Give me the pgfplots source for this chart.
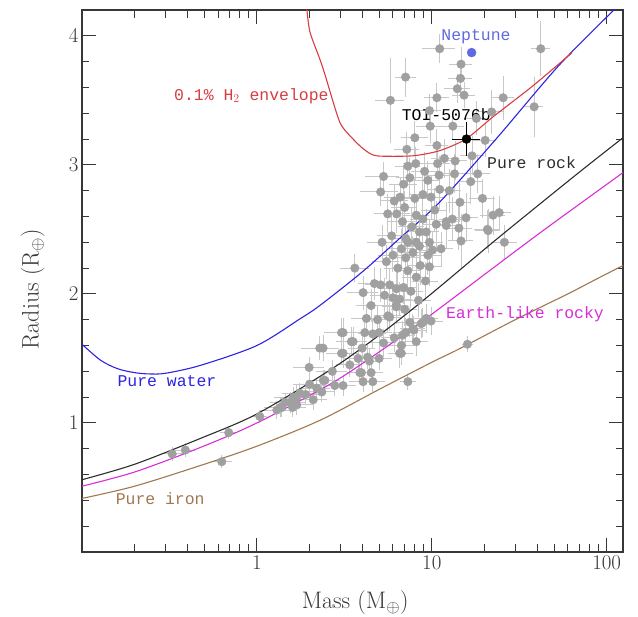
\documentclass[border=0pt]{standalone}
\usepackage{fontspec}
\usepackage{pgfplots}
\usepackage{pgfplotstable}
\pgfplotsset{compat=1.18}
\newfontfamily\labelmono{Liberation Mono}
\definecolor{ptgrey}{RGB}{160,160,160}
\definecolor{errgrey}{RGB}{200,200,200}
\definecolor{envred}{RGB}{215,60,65}
\definecolor{waterblue}{RGB}{45,35,225}
\definecolor{earthmag}{RGB}{215,45,215}
\definecolor{ironbrown}{RGB}{160,120,80}
\definecolor{rockblack}{RGB}{45,45,45}
\definecolor{neptblue}{RGB}{95,105,225}
\definecolor{axisgrey}{RGB}{55,55,55}

% known planets: mass, radius, mass error, radius error
\pgfplotstableread{
m r em er
11.1 3.90 1.8 0.08
42 3.90 3 0.18
14.7 3.78 1.5 0.10
14.6 3.67 1.5 0.08
7.08 3.68 0.6 0.12
5.8 3.50 0.8 0.30
14.0 3.59 1.6 0.08
15.3 3.54 1.5 0.07
10.7 3.52 1.2 0.08
25.6 3.52 2.5 0.14
38.5 3.45 2.5 0.20
22.0 3.41 2.4 0.14
9.8 3.30 1.2 0.10
13.2 3.30 1.3 0.08
9.7 3.42 1.0 0.10
8.0 3.21 1.0 0.10
18.0 3.36 1.8 0.10
7.2 3.12 0.8 0.10
10.7 3.15 1.0 0.10
7.3 2.99 0.8 0.12
8.1 3.01 0.9 0.10
10.8 3.01 1.2 0.10
11.0 2.92 1.2 0.12
5.3 2.91 0.9 0.08
5.1 2.79 1.0 0.08
6.6 2.75 1.0 0.12
6.1 2.72 0.8 0.10
8.9 2.77 1.0 0.15
9.9 2.75 1.2 0.14
7.0 2.67 0.8 0.10
8.0 2.74 1.0 0.12
11.1 2.81 1.2 0.12
8.15 2.61 1.0 0.12
8.9 2.58 1.0 0.15
6.8 2.56 0.9 0.10
9.3 2.48 1.2 0.15
10.6 2.54 1.2 0.15
7.1 2.43 0.9 0.12
8.15 2.40 1.0 0.12
9.7 2.40 1.3 0.15
12.1 2.53 1.5 0.15
13.6 3.03 1.5 0.12
17.0 3.07 1.8 0.12
20.2 3.19 2.0 0.10
18.3 2.93 2.0 0.12
16.7 2.87 1.8 0.14
13.5 2.93 1.4 0.12
19.5 2.74 2.2 0.12
14.5 2.71 1.5 0.12
15.7 2.59 1.8 0.16
13.1 2.58 1.5 0.14
22.4 2.61 2.5 0.12
24.3 2.63 2.5 0.10
14.3 2.51 1.8 0.14
20.8 2.50 2.5 0.12
14.7 2.41 1.6 0.18
12.1 2.56 1.3 0.12
10.1 2.34 1.2 0.12
11.3 2.35 1.2 0.10
26.0 2.40 3.0 0.10
21.0 2.49 2.4 0.14
3.63 2.20 0.5 0.08
4.05 2.01 0.6 0.10
4.7 2.08 0.7 0.10
5.1 2.07 0.7 0.10
5.75 2.07 0.8 0.10
6.27 2.04 0.8 0.12
5.37 1.99 0.7 0.10
6.55 1.96 0.8 0.10
4.5 1.91 0.6 0.10
5.6 1.83 0.7 0.10
6.27 1.90 0.8 0.10
7.3 2.18 0.9 0.12
8.15 2.13 1.0 0.12
6.7 2.35 0.8 0.12
7.3 2.40 0.9 0.10
8.5 2.37 1.0 0.12
9.5 2.30 1.2 0.12
9.7 2.21 1.2 0.12
7.1 2.28 0.9 0.10
4.23 1.81 0.6 0.08
3.11 1.70 0.5 0.08
4.14 1.70 0.6 0.08
4.6 1.69 0.6 0.08
3.55 1.63 0.5 0.08
2.39 1.58 0.4 0.07
6.8 1.68 0.8 0.08
7.9 1.72 0.9 0.08
8.7 1.77 1.0 0.08
7.5 1.78 0.9 0.08
9.3 1.81 1.0 0.08
9.9 1.79 1.1 0.08
16.0 1.61 0.4 0.03
3.05 1.70 0.5 0.08
3.47 1.63 0.5 0.08
3.11 1.54 0.5 0.08
5.0 1.70 0.6 0.08
5.75 1.82 0.7 0.08
6.27 1.91 0.7 0.10
7.1 1.70 0.8 0.08
7.8 1.73 0.9 0.08
8.9 1.78 1.0 0.08
6.55 1.54 0.6 0.08
4.4 1.48 0.5 0.06
8.15 1.63 0.9 0.08
6.7 1.60 0.8 0.08
3.05 1.54 0.4 0.06
3.79 1.50 0.5 0.06
4.3 1.51 0.5 0.06
5.0 1.50 0.6 0.06
6.7 1.54 0.7 0.06
3.96 1.39 0.5 0.06
4.5 1.39 0.5 0.06
4.05 1.32 0.5 0.05
4.6 1.32 0.5 0.05
3.11 1.29 0.4 0.05
2.79 1.29 0.4 0.05
7.3 1.32 0.4 0.03
2.35 1.24 0.3 0.05
2.4 1.33 0.3 0.05
3.88 1.39 0.4 0.05
2.29 1.58 0.4 0.06
1.99 1.43 0.3 0.05
2.45 1.33 0.4 0.05
2.2 1.27 0.3 0.05
1.69 1.20 0.3 0.06
1.55 1.16 0.25 0.05
1.36 1.12 0.2 0.04
1.3 1.10 0.2 0.04
1.04 1.05 0.05 0.02
0.69 0.925 0.04 0.02
0.63 0.70 0.05 0.02
0.328 0.76 0.03 0.02
0.39 0.79 0.03 0.02
1.39 1.12 0.2 0.04
1.62 1.20 0.3 0.05
1.76 1.23 0.3 0.05
1.69 1.14 0.3 0.05
6.0 2.30 0.8 0.10
6.4 2.20 0.8 0.10
5.5 2.25 0.7 0.10
6.9 2.05 0.8 0.10
7.6 2.02 0.9 0.10
8.4 1.95 1.0 0.10
5.9 2.45 0.8 0.12
6.3 2.62 0.8 0.12
7.7 2.52 0.9 0.12
8.5 2.48 1.0 0.12
6.9 2.85 0.9 0.12
7.5 2.90 0.9 0.12
9.1 2.95 1.1 0.12
5.6 2.62 0.7 0.12
5.2 2.40 0.7 0.10
6.0 1.97 0.7 0.10
7.0 1.88 0.8 0.10
4.9 1.80 0.6 0.08
5.3 1.62 0.6 0.08
6.1 1.66 0.7 0.08
4.0 1.58 0.5 0.07
3.4 1.45 0.4 0.06
2.7 1.40 0.4 0.06
2.0 1.30 0.3 0.05
1.45 1.16 0.2 0.04
1.6 1.12 0.2 0.04
1.9 1.22 0.3 0.05
2.1 1.18 0.3 0.05
8.6 2.22 1.0 0.12
9.2 2.10 1.1 0.12
10.4 2.65 1.2 0.14
12.6 2.80 1.4 0.14
11.8 3.05 1.3 0.12
9.5 2.88 1.1 0.12
7.8 2.32 0.9 0.10
}\planets

\begin{document}
\begin{tikzpicture}
\path[use as bounding box] (-82bp,-65bp) rectangle (556bp,552bp);
\begin{axis}[
    at={(0,0)}, anchor=south west,
    scale only axis, width=541bp, height=542bp,
    xmode=log, xmin=0.1, xmax=124, ymin=0, ymax=4.2,
    xtick={1,10,100}, xticklabels={1,10,100},
    minor xtick={0.2,0.3,0.4,0.5,0.6,0.7,0.8,0.9,2,3,4,5,6,7,8,9,20,30,40,50,60,70,80,90},
    ytick={1,2,3,4}, yticklabels={1,2,3,4},
    minor ytick={0.2,0.4,0.6,0.8,1.2,1.4,1.6,1.8,2.2,2.4,2.6,2.8,3.2,3.4,3.6,3.8,4.0},
    tick align=inside, major tick length=14bp, minor tick length=7.5bp,
    axis line style={axisgrey, line width=1.2bp},
    every tick/.style={axisgrey, line width=1bp},
    ticklabel style={font=\fontsize{21}{25}\selectfont, text=axisgrey},
    /pgf/number format/assume math mode=true,
    xlabel={Mass (M$_\oplus$)}, ylabel={Radius (R$_\oplus$)},
    label style={font=\fontsize{24}{28}\selectfont, text=axisgrey},
    xlabel style={at={(axis description cs:0.505,-0.094)}, anchor=center},
    ylabel style={at={(axis description cs:-0.091,0.485)}, anchor=center},
]

\addplot[only marks, mark=*, mark size=4.3bp, color=ptgrey,
    error bars/.cd, x dir=both, x explicit, y dir=both, y explicit,
    error bar style={color=errgrey, line width=1bp},
    error mark options={errgrey, mark size=4bp, line width=1bp}]
    table[x=m, y=r, x error=em, y error=er] {\planets};

% pure water
\addplot[waterblue, line width=1.1bp, smooth] coordinates {
    (0.1,1.61) (0.128,1.485) (0.16,1.42) (0.2,1.39) (0.241,1.38) (0.3,1.385)
    (0.475,1.446) (1,1.60) (1.765,1.807) (2.29,1.91) (4,2.17) (6.55,2.43)
    (11.07,2.71) (23.3,3.20) (53.3,3.77) (112,4.21)
};
% 0.1% H2 envelope
\addplot[envred, line width=1.1bp, smooth, tension=0.4] coordinates {
    (1.93,4.21) (2.01,4.03) (2.29,3.82) (2.45,3.70) (2.98,3.33) (3.55,3.20)
    (4.1,3.12) (4.82,3.07) (7.8,3.07) (11.1,3.11) (15.7,3.20) (22.3,3.37)
    (37.7,3.61) (63.5,3.87)
};
% pure rock
\addplot[rockblack, line width=1.1bp, smooth] coordinates {
    (0.1,0.56) (0.2,0.68) (0.475,0.88) (1,1.07) (2.62,1.41) (5,1.68)
    (9.72,1.99) (23.3,2.42) (66.4,2.92) (124,3.21)
};
% Earth-like rocky
\addplot[earthmag, line width=1.1bp, smooth] coordinates {
    (0.1,0.51) (0.2,0.62) (0.475,0.81) (1,1.0) (2.62,1.30) (5,1.55)
    (9.72,1.83) (20,2.15) (36,2.41) (53.3,2.58) (124,2.94)
};
% pure iron
\addplot[ironbrown, line width=1.1bp, smooth] coordinates {
    (0.1,0.415) (0.2,0.51) (0.475,0.67) (1,0.82) (2.29,1.02) (5,1.26)
    (10,1.47) (14.4,1.575) (30,1.80) (60,2.0) (86,2.11) (124,2.22)
};

% Neptune
\addplot[only marks, mark=*, mark size=4.5bp, color=neptblue] coordinates {(16.9,3.87)};
% TOI-5076b
\addplot[only marks, mark=*, mark size=4.5bp, color=black,
    error bars/.cd, x dir=both, x explicit, y dir=both, y explicit,
    error bar style={color=black, line width=1bp},
    error mark options={black, mark size=4bp, line width=1bp}]
    coordinates {(15.8,3.20) +- (2.1,0.10)};

\begin{scope}[every node/.style={font=\labelmono\fontsize{16.5}{20}\selectfont}]
\node[text=neptblue] at (axis cs:17.9,3.99) {Neptune};
\node[text=black] at (axis cs:12.1,3.39) {TOI-5076b};
\node[text=rockblack] at (axis cs:37.2,3.02) {Pure rock};
\node[text=earthmag] at (axis cs:34.1,1.846) {Earth-like rocky};
\node[text=envred] at (axis cs:0.93,3.535) {0.1\% H$_2$ envelope};
\node[text=waterblue] at (axis cs:0.306,1.322) {Pure water};
\node[text=ironbrown] at (axis cs:0.28,0.414) {Pure iron};
\end{scope}
\end{axis}
\end{tikzpicture}
\end{document}
